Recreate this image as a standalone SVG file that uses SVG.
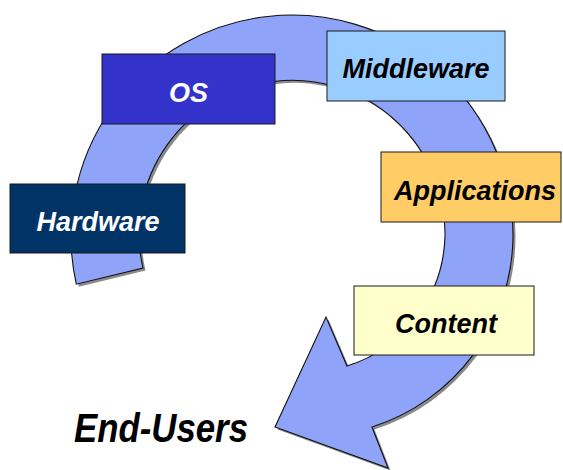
<svg xmlns="http://www.w3.org/2000/svg" width="563" height="470" viewBox="0 0 563 470">
<style>
.box{stroke:#1a1a1a;stroke-width:1}
.lbl{font-family:"Liberation Sans",Arial,sans-serif;font-weight:bold;font-style:italic;font-size:27px;text-anchor:middle}
.w{fill:#ffffff}
.k{fill:#000000}
</style>
<defs>
<path id="ring" d="M 76.3 284.2 A 221 221 0 1 1 513 236 A 202 202 0 0 1 372 427 L 388 468 L 275 427 L 326 317 L 347 366 A 140 140 0 0 0 445 236 A 153 153 0 1 0 143 268 Z"/>
</defs>
<rect width="563" height="470" fill="#ffffff"/>
<g id="connectors">
<use href="#ring" transform="translate(2.5,2.5)" fill="#8a8a8a"/>
<use href="#ring" fill="#8fa4f8" stroke="#111" stroke-width="1.1" stroke-linejoin="miter"/>
</g>
<g id="hardware">
<rect class="box" x="10" y="184" width="175" height="69" fill="#003366"/>
<text class="lbl w" x="98" y="231">Hardware</text>
</g>
<g id="os">
<rect class="box" x="102" y="54" width="173" height="70" fill="#3333cc"/>
<text class="lbl w" x="188.5" y="101.5">OS</text>
</g>
<g id="middleware">
<rect class="box" x="327" y="31" width="178" height="70" fill="#99ccff"/>
<text class="lbl k" x="416" y="78">Middleware</text>
</g>
<g id="applications">
<rect class="box" x="381" y="152" width="180" height="70" fill="#ffcc66"/>
<text class="lbl k" x="475" y="200">Applications</text>
</g>
<g id="content">
<rect class="box" x="354" y="286" width="180" height="69" fill="#ffffcc"/>
<text class="lbl k" x="446" y="333">Content</text>
</g>
<g id="end-users">
<text class="lbl k" x="74" y="442" style="text-anchor:start;font-size:40px" textLength="174" lengthAdjust="spacingAndGlyphs">End-Users</text>
</g>
</svg>
